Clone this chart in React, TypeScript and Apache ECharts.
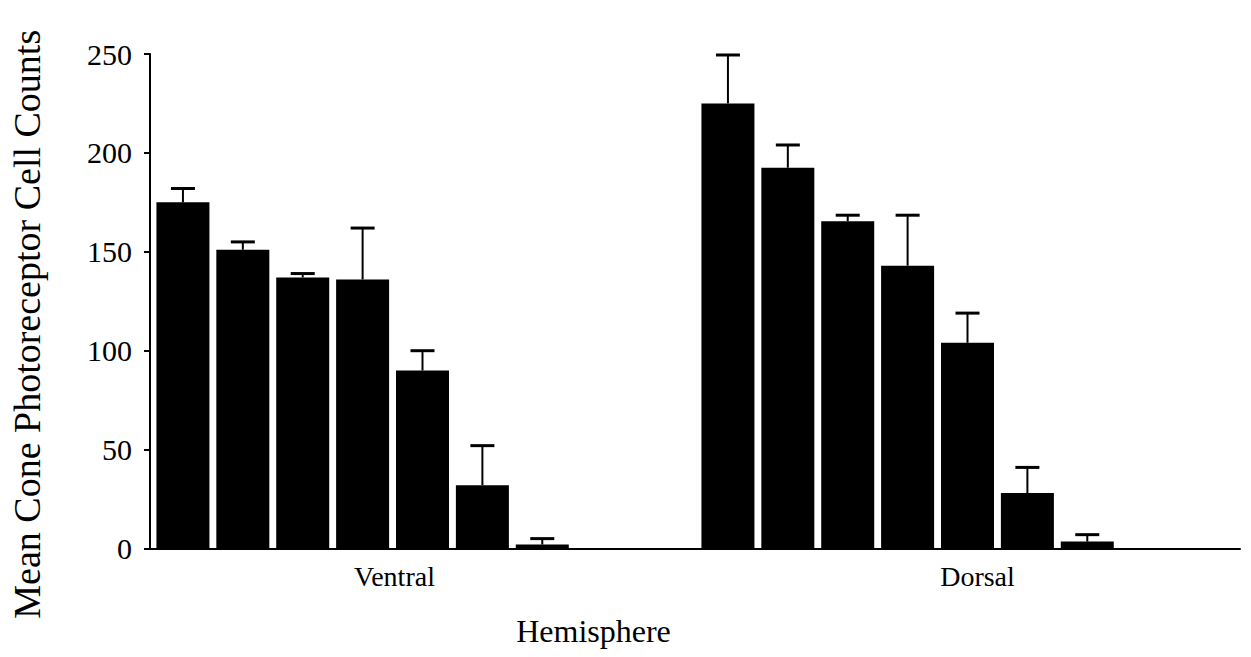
import React, { useEffect, useRef } from "react";
import * as echarts from "echarts";

const hemispheres = ["Ventral", "Dorsal"];
const yTicks = [0, 50, 100, 150, 200, 250];
// seven bars per hemisphere (means) and the upper end of each error bar
const ventralMeans = [175, 151, 137, 136, 90, 32, 2];
const ventralUpper = [182, 155, 139, 162, 100, 52, 5];
const dorsalMeans = [225, 192.5, 165.5, 143, 104, 28, 3.5];
const dorsalUpper = [249.5, 204, 168.5, 168.5, 119, 41, 7];

const FONT = '"Liberation Serif", "Times New Roman", serif';
const BAR_W = 53;
const BAR_GAP = 0.13;
const SLOTS = 9; // 7 bars + 2 empty slots at the right of each group
const PITCH = BAR_W * (1 + BAR_GAP);

export default function App() {
  const ref = useRef<HTMLDivElement>(null);
  useEffect(() => {
    if (!ref.current) return;
    const chart = echarts.init(ref.current, null, { renderer: "svg" });
    const barSeries: any[] = [];
    for (let i = 0; i < 7; i++) {
      barSeries.push({
        type: "bar",
        name: "Group " + (i + 1),
        data: [ventralMeans[i], dorsalMeans[i]],
        barWidth: BAR_W,
        barGap: BAR_GAP * 100 + "%",
        itemStyle: { color: "#000" },
        z: 2,
      });
    }
    for (let i = 0; i < SLOTS - 7; i++) {
      barSeries.push({
        type: "bar",
        name: "spacer" + i,
        data: ["-", "-"],
        barWidth: BAR_W,
        barGap: BAR_GAP * 100 + "%",
        itemStyle: { color: "#000" },
      });
    }
    const errData: number[][] = [];
    for (let i = 0; i < 7; i++) {
      errData.push([0, i, ventralMeans[i], ventralUpper[i]]);
      errData.push([1, i, dorsalMeans[i], dorsalUpper[i]]);
    }
    chart.setOption({
      animation: false,
      backgroundColor: "#fff",
      grid: { left: 147, right: 11, top: 54, bottom: 108.5, containLabel: false },
      xAxis: {
        type: "category",
        data: hemispheres,
        name: "Hemisphere",
        nameLocation: "middle",
        nameGap: 66,
        nameTextStyle: {
          fontFamily: FONT,
          fontSize: 32,
          color: "#000",
          padding: [0, 203, 0, 0],
        },
        axisLine: { lineStyle: { color: "#000", width: 2 } },
        axisTick: { show: false },
        axisLabel: {
          margin: 14,
          color: "#000",
          fontFamily: FONT,
          fontSize: 28,
          formatter: (v: string) => (v === "Ventral" ? "{v|" + v + "}" : "{d|" + v + "}"),
          rich: {
            v: { fontFamily: FONT, fontSize: 28, color: "#000", padding: [0, 56, 0, 0] },
            d: { fontFamily: FONT, fontSize: 28, color: "#000", padding: [0, 0, 0, 20] },
          },
        },
        splitLine: { show: false },
      },
      yAxis: {
        type: "value",
        min: yTicks[0],
        max: yTicks[yTicks.length - 1],
        interval: yTicks[1] - yTicks[0],
        name: "Mean Cone Photoreceptor Cell Counts",
        nameLocation: "middle",
        nameGap: 104,
        nameTextStyle: { fontFamily: FONT, fontSize: 38, color: "#000", padding: [0, 46, 0, 0] },
        axisLine: { show: true, lineStyle: { color: "#000", width: 2 } },
        axisTick: { show: true, length: 6, lineStyle: { color: "#000", width: 2 } },
        axisLabel: { margin: 18, color: "#000", fontFamily: FONT, fontSize: 30 },
        splitLine: { show: false },
      },
      series: [
        ...barSeries,
        {
          type: "custom",
          name: "SEM",
          data: errData,
          encode: { x: 0, y: [2, 3] },
          z: 3,
          renderItem: (params: any, api: any) => {
            const cat = api.value(0);
            const s = api.value(1);
            const mean = api.value(2);
            const up = api.value(3);
            const base = api.coord([cat, mean]);
            const top = api.coord([cat, up]);
            const x = base[0] + (s - (SLOTS - 1) / 2) * PITCH;
            return {
              type: "group",
              children: [
                {
                  type: "line",
                  shape: { x1: x, y1: base[1], x2: x, y2: top[1] },
                  style: { stroke: "#000", lineWidth: 2 },
                },
                {
                  type: "line",
                  shape: { x1: x - 12, y1: top[1], x2: x + 12, y2: top[1] },
                  style: { stroke: "#000", lineWidth: 3 },
                },
              ],
            };
          },
        },
      ],
    });
    return () => chart.dispose();
  }, []);
  return (
    <div
      ref={ref}
      style={{ position: "fixed", left: 0, top: 0, width: 1251, height: 657, background: "#fff" }}
    />
  );
}
